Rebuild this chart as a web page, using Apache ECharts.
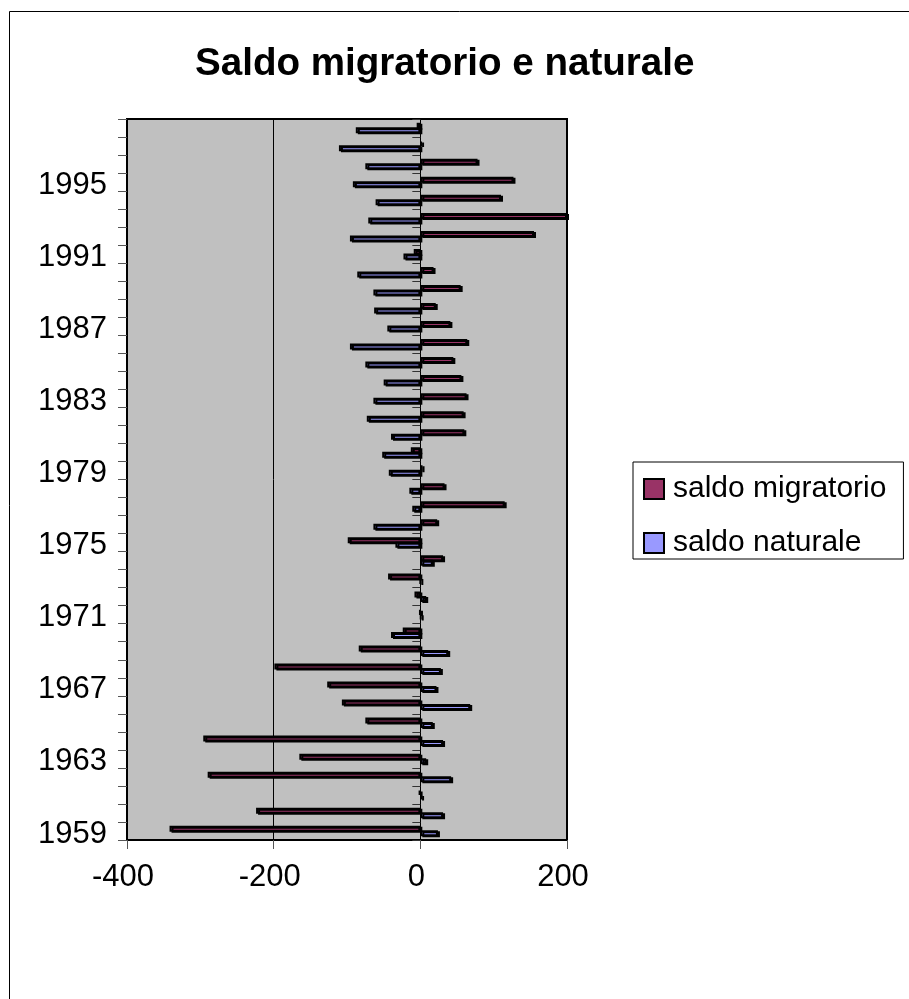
<!DOCTYPE html>
<html>
<head>
<meta charset="utf-8">
<script src="https://cdn.jsdelivr.net/npm/echarts@6/dist/echarts.min.js"></script>
<style>
html,body{margin:0;padding:0;background:#fff;}
#chart{width:909px;height:999px;}
</style>
</head>
<body>
<div id="chart"></div>
<script>
const years = ['1959','1960','1961','1962','1963','1964','1965','1966','1967','1968',
  '1969','1970','1971','1972','1973','1974','1975','1976','1977','1978',
  '1979','1980','1981','1982','1983','1984','1985','1986','1987','1988',
  '1989','1990','1991','1992','1993','1994','1995','1996','1997','1998'];
const saldoMigratorio = [-342,-224,-2,-290,-165,-296,-75,-107,-127,-199,
  -84,-24,-1,-8,-44,31,-99,23,115,33,
  3,-13,60,59,63,56,45,64,41,21,
  55,18,-9,155,200,110,127,78,2,-5];
const saldoNaturale = [24,31,2,42,8,31,17,68,22,28,
  38,-40,1,8,0,17,-34,-64,-11,-15,
  -43,-52,-40,-73,-64,-50,-75,-96,-45,-63,
  -64,-86,-23,-96,-71,-61,-92,-75,-111,-88];
const xTicks = [-400, -200, 0, 200];

const FONT = "'Liberation Sans', Arial, sans-serif";
const chart = echarts.init(document.getElementById('chart'), null, {renderer: 'canvas'});

const barStyle = (color) => ({
  color: color,
  borderColor: '#000',
  borderWidth: 2,
  shadowColor: '#000',
  shadowOffsetX: 2,
  shadowOffsetY: 1,
  shadowBlur: 0
});

chart.setOption({
  animation: false,
  backgroundColor: '#fff',
  title: {
    text: 'Saldo migratorio e naturale',
    left: 190,
    top: 40,
    textStyle: {fontFamily: FONT, fontSize: 38.6, fontWeight: 'bold', color: '#000'}
  },
  legend: {
    orient: 'vertical',
    left: 633,
    top: 462,
    data: ['saldo migratorio', 'saldo naturale'],
    icon: 'rect',
    itemWidth: 20,
    itemHeight: 20,
    itemGap: 24,
    padding: [12, 17, 1, 10],
    borderColor: '#000',
    borderWidth: 1,
    backgroundColor: '#fff',
    itemStyle: {borderColor: '#000', borderWidth: 2},
    textStyle: {fontFamily: FONT, fontSize: 30, color: '#000', lineHeight: 28, padding: [0, 0, 0, 4]}
  },
  grid: {
    left: 127,
    top: 119,
    width: 440,
    height: 721,
    show: true,
    backgroundColor: '#C0C0C0',
    borderColor: '#000',
    borderWidth: 2
  },
  xAxis: {
    type: 'value',
    min: xTicks[0],
    max: xTicks[xTicks.length - 1],
    interval: 200,
    axisLine: {show: true, lineStyle: {color: '#000', width: 2}},
    axisTick: {show: true, length: 9, lineStyle: {color: '#555'}},
    axisLabel: {
      margin: 22,
      formatter: (v) => '{t|' + v + '}',
      rich: {t: {fontFamily: FONT, fontSize: 31, color: '#000', padding: [0, 8, 0, 0]}}
    },
    splitLine: {show: true, lineStyle: {color: '#000', width: 1}}
  },
  yAxis: [
    {
      type: 'category',
      data: years,
      position: 'left',
      axisLine: {show: true, onZero: false, lineStyle: {color: '#000', width: 2}},
      axisTick: {show: true, interval: 0, length: 9, lineStyle: {color: '#555'}},
      axisLabel: {
        interval: 3,
        margin: 20,
        formatter: (v) => '{y|' + v + '}',
        rich: {y: {fontFamily: FONT, fontSize: 31, color: '#000', padding: [6, 0, 0, 0]}}
      }
    },
    {
      type: 'category',
      data: years,
      position: 'left',
      axisLine: {show: true, onZero: true, lineStyle: {color: '#000', width: 1}},
      axisTick: {show: true, interval: 0, length: 8, lineStyle: {color: '#333'}},
      axisLabel: {show: false}
    }
  ],
  series: [
    {
      name: 'saldo migratorio',
      type: 'bar',
      yAxisIndex: 0,
      data: saldoMigratorio,
      barWidth: 6,
      barGap: '-25%',
      itemStyle: barStyle('#993366')
    },
    {
      name: 'saldo naturale',
      type: 'bar',
      yAxisIndex: 0,
      data: saldoNaturale,
      barWidth: 6,
      barGap: '-25%',
      itemStyle: barStyle('#9999FF')
    }
  ],
  graphic: [
    {
      type: 'rect',
      silent: true,
      shape: {x: 9.5, y: 11.5, width: 1000, height: 1000},
      style: {fill: 'none', stroke: '#000', lineWidth: 1}
    }
  ]
});
</script>
</body>
</html>
